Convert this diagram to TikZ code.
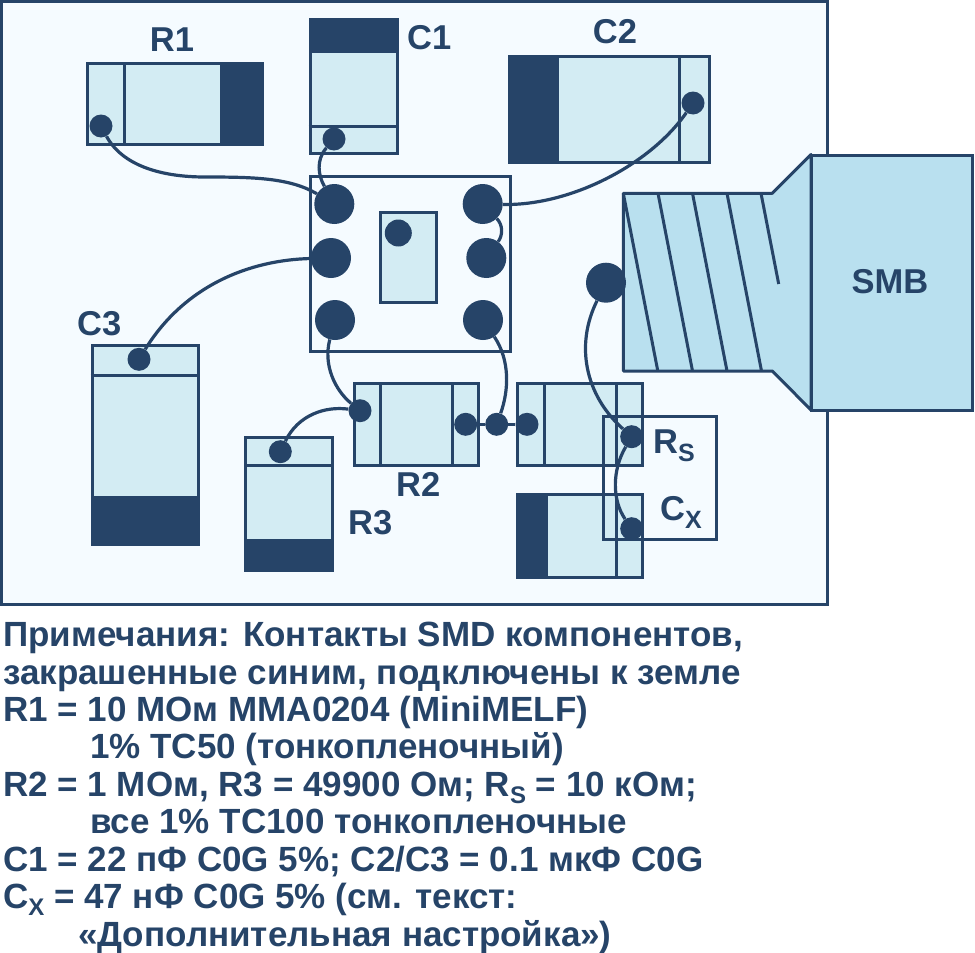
\documentclass[tikz,border=0pt]{standalone}
\usepackage{fontspec}
\setmainfont{Liberation Sans}
\usepackage{tikz}
\definecolor{inkblue}{HTML}{264468}
\definecolor{partfill}{HTML}{D3ECF3}
\definecolor{boardfill}{HTML}{F5FBFF}
\definecolor{smbfill}{HTML}{B9E0EF}
\newcommand{\lowsub}[1]{\raisebox{-8pt}{\fontsize{25}{25}\selectfont #1}}
\newcommand{\notesub}[1]{\raisebox{-7pt}{\fontsize{24}{24}\selectfont #1}}

\begin{document}
\begin{tikzpicture}[x=1pt,y=-1pt,
    % Styles for the board parts
    board/.style={rectangle, draw=inkblue, fill=boardfill, line width=3pt, inner sep=0pt},
    part/.style={rectangle, draw=inkblue, fill=partfill, line width=3pt, inner sep=0pt},
    endcap/.style={rectangle, fill=inkblue, inner sep=0pt},
    outline/.style={rectangle, draw=inkblue, line width=3pt, inner sep=0pt},
    pad/.style={circle, fill=inkblue, minimum size=40pt, inner sep=0pt},
    dot/.style={circle, fill=inkblue, minimum size=23pt, inner sep=0pt},
    wire/.style={draw=inkblue, line width=3.2pt},
    edge_line/.style={draw=inkblue, line width=3pt},
    term/.style={font=\bfseries\fontsize{34.5}{35}\selectfont, text=inkblue, inner sep=0pt}
]
    \useasboundingbox (0,0) rectangle (975,953);

    % Board
    \node[board, minimum width=826pt, minimum height=603pt] (pcb) at (414.5,303) {};

    % R1
    \node[part, minimum width=175pt, minimum height=81pt] (r1) at (175,104) {};
    \node[endcap, minimum width=44pt, minimum height=84pt] (r1cap) at (242,104) {};
    \draw[edge_line] (124,62) -- (124,146);
    % C1
    \node[part, minimum width=87.5pt, minimum height=134pt] (c1) at (353.75,86.5) {};
    \node[endcap, minimum width=90.5pt, minimum height=35pt] (c1cap) at (353.75,35.5) {};
    \draw[edge_line] (308.5,126) -- (399,126);
    % C2
    \node[part, minimum width=200pt, minimum height=105.7pt] (c2) at (609.5,109.4) {};
    \node[endcap, minimum width=50.5pt, minimum height=108.7pt] (c2cap) at (533.25,109.4) {};
    \draw[edge_line] (679,55) -- (679,163.7);
    % C3
    \node[part, minimum width=106pt, minimum height=199pt] (c3) at (145.2,444.6) {};
    \node[endcap, minimum width=109pt, minimum height=49.7pt] (c3cap) at (145.2,520.8) {};
    \draw[edge_line] (90.7,375.3) -- (199.7,375.3);
    % R3
    \node[part, minimum width=87.3pt, minimum height=133pt] (r3) at (289.15,504) {};
    \node[endcap, minimum width=90.3pt, minimum height=33.3pt] (r3cap) at (289.15,555.4) {};
    \draw[edge_line] (244,465.3) -- (334.3,465.3);
    % R2
    \node[part, minimum width=124pt, minimum height=81.7pt] (r2) at (416.5,424.35) {};
    \draw[edge_line] (380.7,382) -- (380.7,466.7);
    \draw[edge_line] (452,382) -- (452,466.7);
    % Rs
    \node[part, minimum width=124.4pt, minimum height=81.7pt] (rs) at (580,424.35) {};
    \draw[edge_line] (544.3,382) -- (544.3,466.7);
    \draw[edge_line] (616,382) -- (616,466.7);
    % Cx
    \node[part, minimum width=124.4pt, minimum height=82.4pt] (cx) at (580,536) {};
    \node[endcap, minimum width=31.7pt, minimum height=85.4pt] (cxcap) at (532.15,536) {};
    \draw[edge_line] (616,493.3) -- (616,578.7);
    % Frame around Rs and Cx
    \node[outline, minimum width=113pt, minimum height=123pt] (rscx) at (660.3,478) {};

    % Package
    \node[outline, minimum width=199.5pt, minimum height=175pt] (ic) at (410.3,264) {};
    \node[part, minimum width=56pt, minimum height=90pt] (die) at (408.5,257.5) {};
    \node[dot, minimum size=27pt] (diepad) at (398.3,233) {};

    % Pads of the package
    \node[pad] (p1) at (334.3,204) {};
    \node[pad] (p2) at (331,258) {};
    \node[pad] (p3) at (335,320) {};
    \node[pad] (p4) at (482.7,204) {};
    \node[pad] (p5) at (486.3,258) {};
    \node[pad] (p6) at (483,320) {};

    % SMB connector
    \draw[edge_line, fill=smbfill, line join=round] (623.3,193.3) -- (772.3,193.3) -- (811,154.5) -- (811,410) -- (772.3,371) -- (623.3,371) -- cycle;
    \foreach \x in {623.3,658,692.5,727}
        \draw[edge_line] (\x,193.3) -- ({\x+34.5},371);
    \draw[edge_line] (761,193.3) -- (778.7,284);
    \node[rectangle, draw=inkblue, fill=smbfill, line width=3pt, inner sep=0pt, minimum width=161pt, minimum height=255pt] (smb) at (892,282.5) {};
    \node[term] (smblabel) at (890,282) {SMB};
    \node[pad] (psig) at (606,282.7) {};

    % Dots on the parts
    \node[dot] (r1pad) at (101,126) {};
    \node[dot] (c1pad) at (334,139) {};
    \node[dot] (c2pad) at (693,103) {};
    \node[dot] (c3pad) at (139,359.3) {};
    \node[dot] (r3pad) at (280.3,451.7) {};
    \node[dot] (r2a) at (360,410.7) {};
    \node[dot] (r2b) at (465.7,424.3) {};
    \node[dot] (mid) at (496.7,424.3) {};
    \node[dot] (rsa) at (527,424.3) {};
    \node[dot] (rsb) at (631.7,436.7) {};
    \node[dot] (cxpad) at (631.7,528.7) {};

    % Bond wires
    \coordinate (r1low) at (205,177);
    \draw[wire] (r1pad) .. controls (122,165) and (160,177) .. (r1low) .. controls (255,177) and (290,178) .. (p1);
    \draw[wire] (c1pad) .. controls (316,160) and (318,175) .. (p1);
    \draw[wire] (p2) .. controls (250,260) and (185,285) .. (c3pad);
    \draw[wire] (p4) .. controls (570,206) and (650,165) .. (c2pad);
    \draw[wire] (p4) .. controls (503,225) and (503,235) .. (p5);
    \draw[wire] (p3) .. controls (323,365) and (335,390) .. (r2a);
    \draw[wire] (r3pad) .. controls (298,415) and (325,406) .. (r2a);
    \draw[wire] (p6) .. controls (510,360) and (509,390) .. (mid);
    \draw[wire] (r2b) -- (mid);
    \draw[wire] (mid) -- (rsa);
    \draw[wire] (psig) .. controls (575,345) and (585,395) .. (rsb);
    \draw[wire] (rsb) .. controls (612,470) and (612,500) .. (cxpad);

    % Part labels
    \node[term, anchor=base] (r1label) at (172,51.7) {R1};
    \node[term, anchor=base west] (c1label) at (407,49) {C1};
    \node[term, anchor=base] (c2label) at (615,43.7) {C2};
    \node[term, anchor=base west] (c3label) at (77,335) {C3};
    \node[term, anchor=base west] (r3label) at (348,534) {R3};
    \node[term, anchor=base west] (r2label) at (396,496.7) {R2};
    \node[term, anchor=base west] (rslabel) at (653,453) {R\lowsub{S}};
    \node[term, anchor=base west] (cxlabel) at (660,520) {C\lowsub{X}};

    % Notes
    \node[anchor=north west, inner sep=0pt, align=left, text=inkblue, font=\bfseries\fontsize{35}{37.45}\selectfont] (notes) at (3,622) {
        Примечания: Контакты SMD компонентов,\\
        закрашенные синим, подключены к земле\\
        R1 = 10 МОм MMA0204 (MiniMELF)\\
        \hspace*{87pt}1\% TC50 (тонкопленочный)\\
        R2 = 1 МОм, R3 = 49900 Ом; R\notesub{S} = 10 кОм;\\
        \hspace*{87pt}все 1\% TC100 тонкопленочные\\
        C1 = 22 пФ C0G 5\%; C2/C3 = 0.1 мкФ C0G\\
        C\notesub{X} = 47 нФ C0G 5\% (см. текст:\\
        \hspace*{75pt}«Дополнительная настройка»)
    };
\end{tikzpicture}
\end{document}
